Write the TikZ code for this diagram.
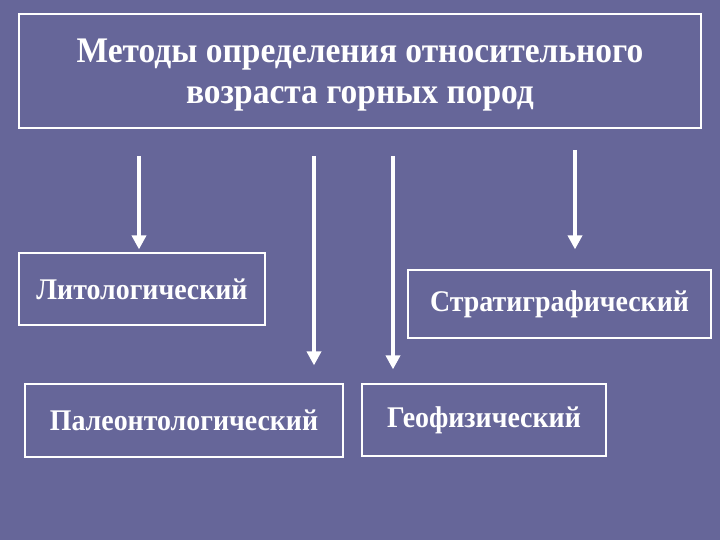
\documentclass[tikz,border=0pt]{standalone}
\usepackage{fontspec}
\setmainfont{Liberation Serif}[FakeStretch=0.93]
\usetikzlibrary{arrows.meta, positioning}
\definecolor{slidebg}{RGB}{102,102,153}

\begin{document}
\begin{tikzpicture}[x=1pt, y=-1pt,
    font=\bfseries\fontsize{30}{36}\selectfont,
    box/.style={draw=white, line width=1.2pt, text=white, rectangle, align=center},
    arr/.style={-{Triangle[width=14pt,length=14pt]}, draw=white, line width=4.5pt}]
            \fill[slidebg] (0,0) rectangle (720,540);
            \useasboundingbox (0,0) rectangle (720,540);

            \node[box, minimum width=682pt, minimum height=114pt] (Title) at (360,71) {};
            \node[text=white, align=center, font=\bfseries\fontsize{36}{41}\selectfont] (TitleText) at (360,75) {Методы определения относительного\\возраста горных пород};
            \node[box, minimum width=246pt, minimum height=72pt] (Lito) at (142,289) {Литологический};
            \node[box, minimum width=303pt, minimum height=68pt] (Strat) at (559.5,304) {Стратиграфический};
            \node[box, minimum width=318pt, minimum height=73pt] (Paleo) at (184,420.5) {Палеонтологический};
            \node[box, minimum width=244pt, minimum height=72pt] (Geo) at (484,420) {Геофизический};

            \coordinate (aLito) at (139,156);
            \coordinate (aPaleo) at (314,156);
            \coordinate (aGeo) at (393,156);
            \coordinate (aStrat) at (575,150);

            \draw[arr, shorten >=3pt] (aLito) -- (aLito |- Lito.north);
            \draw[arr, shorten >=18pt] (aPaleo) -- (aPaleo |- Paleo.north);
            \draw[arr, shorten >=14pt] (aGeo) -- (aGeo |- Geo.north);
            \draw[arr, shorten >=20pt] (aStrat) -- (aStrat |- Strat.north);
        \end{tikzpicture}
\end{document}
